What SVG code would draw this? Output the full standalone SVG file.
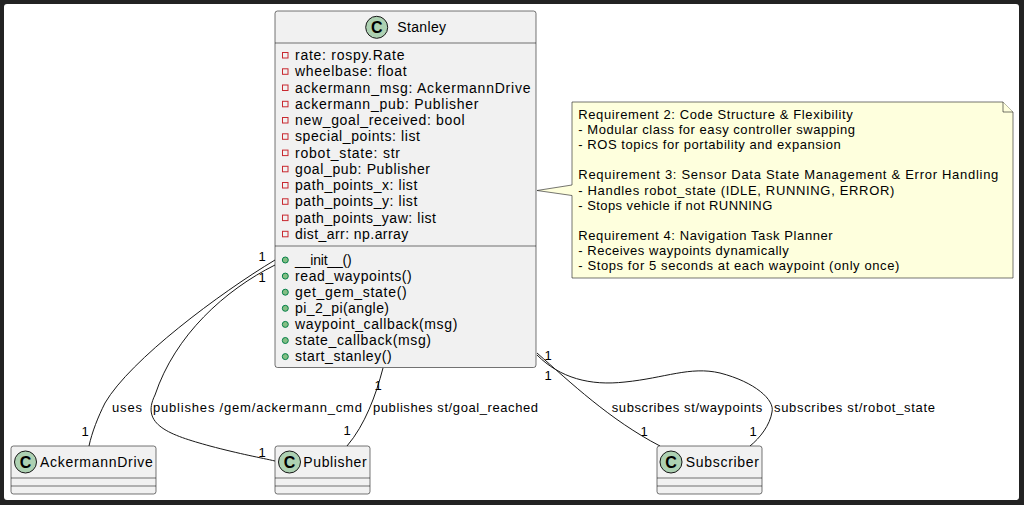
<svg xmlns="http://www.w3.org/2000/svg" width="1024" height="505" viewBox="0 0 1024 505">
<style>
text{font-family:"Liberation Sans",Arial,sans-serif;fill:#000}
.cls{font-size:14px}
.sm{font-size:13px}
.mul{font-size:13px;text-anchor:middle}
.box{fill:#F1F1F1;stroke:#181818;stroke-width:0.6}
.sep{stroke:#181818;stroke-width:0.6}
.ic{fill:#ADD1B2;stroke:#181818;stroke-width:1}
.icT{font-size:16px;font-weight:bold;text-anchor:middle}
.att{fill:none;stroke:#C82930;stroke-width:1}
.met{fill:#84BE84;stroke:#038048;stroke-width:1}
.edge{fill:none;stroke:#181818;stroke-width:1}
.note{fill:#FEFFDD;stroke:#181818;stroke-width:0.6}
</style>
<rect x="0" y="0" width="1024" height="505" fill="#222222"/>
<rect x="4" y="4" width="1015" height="496" rx="3" fill="#FFFFFF"/>

<g id="connectors">
<path class="edge" d="M275,260 C220,293 130,360 105,403 C98,417 92,432 89,446"/>
<path class="edge" d="M275,265 C225,290 175,335 155,395 C140,425 170,435 210,446 C240,454 262,458 275,461"/>
<path class="edge" d="M383,368 C376,395 365,425 347,446"/>
<path class="edge" d="M537,353 C570,382 610,420 660,446"/>
<path class="edge" d="M537,355 C560,378 590,386 625,382 C665,378 690,366 720,373 C755,382 775,400 772,412 C770,425 760,438 750,446"/>
<text class="sm" x="112" y="412" textLength="30">uses</text>
<text class="sm" x="153" y="412" textLength="209">publishes /gem/ackermann_cmd</text>
<text class="sm" x="373" y="412" textLength="165">publishes st/goal_reached</text>
<text class="sm" x="611.7" y="412" textLength="150.6">subscribes st/waypoints</text>
<text class="sm" x="774" y="412" textLength="161">subscribes st/robot_state</text>
<text class="mul" x="262" y="260.5">1</text>
<text class="mul" x="262" y="281.5">1</text>
<text class="mul" x="85" y="435.5">1</text>
<text class="mul" x="262" y="456.5">1</text>
<text class="mul" x="378" y="389.5">1</text>
<text class="mul" x="347" y="434.5">1</text>
<text class="mul" x="548" y="359.5">1</text>
<text class="mul" x="548" y="379.5">1</text>
<text class="mul" x="644" y="435.5">1</text>
<text class="mul" x="753" y="435.5">1</text>
</g>

<g id="Stanley">
<rect class="box" x="275" y="11" width="261" height="356.5" rx="2.5"/>
<line class="sep" x1="275" y1="43" x2="536" y2="43"/>
<line class="sep" x1="275" y1="246" x2="536" y2="246"/>
<circle class="ic" cx="376.7" cy="27.3" r="11"/>
<text class="icT" x="376.7" y="33">C</text>
<text class="cls" x="397.3" y="32" textLength="48.7">Stanley</text>
<rect class="att" x="282.5" y="52.5" width="5.5" height="5.5"/>
<text class="cls" x="295" y="60" textLength="109.5">rate: rospy.Rate</text>
<rect class="att" x="282.5" y="68.8" width="5.5" height="5.5"/>
<text class="cls" x="295" y="76.3" textLength="111.7">wheelbase: float</text>
<rect class="att" x="282.5" y="85" width="5.5" height="5.5"/>
<text class="cls" x="295" y="92.5" textLength="235.5">ackermann_msg: AckermannDrive</text>
<rect class="att" x="282.5" y="101.3" width="5.5" height="5.5"/>
<text class="cls" x="295" y="108.8" textLength="183.5">ackermann_pub: Publisher</text>
<rect class="att" x="282.5" y="117.5" width="5.5" height="5.5"/>
<text class="cls" x="295" y="125" textLength="169.5">new_goal_received: bool</text>
<rect class="att" x="282.5" y="133.8" width="5.5" height="5.5"/>
<text class="cls" x="295" y="141.3" textLength="125">special_points: list</text>
<rect class="att" x="282.5" y="150.1" width="5.5" height="5.5"/>
<text class="cls" x="295" y="157.6" textLength="105">robot_state: str</text>
<rect class="att" x="282.5" y="166.3" width="5.5" height="5.5"/>
<text class="cls" x="295" y="173.8" textLength="135">goal_pub: Publisher</text>
<rect class="att" x="282.5" y="182.5" width="5.5" height="5.5"/>
<text class="cls" x="295" y="190" textLength="122.3">path_points_x: list</text>
<rect class="att" x="282.5" y="198.8" width="5.5" height="5.5"/>
<text class="cls" x="295" y="206.3" textLength="122.3">path_points_y: list</text>
<rect class="att" x="282.5" y="215.1" width="5.5" height="5.5"/>
<text class="cls" x="295" y="222.6" textLength="141">path_points_yaw: list</text>
<rect class="att" x="282.5" y="231.3" width="5.5" height="5.5"/>
<text class="cls" x="295" y="238.8" textLength="113.3">dist_arr: np.array</text>
<circle class="met" cx="285.3" cy="260" r="3"/>
<text class="cls" x="295" y="264.5" textLength="56.7">__init__()</text>
<circle class="met" cx="285.3" cy="276.1" r="3"/>
<text class="cls" x="295" y="280.6" textLength="116.7">read_waypoints()</text>
<circle class="met" cx="285.3" cy="292.2" r="3"/>
<text class="cls" x="295" y="296.7" textLength="111.7">get_gem_state()</text>
<circle class="met" cx="285.3" cy="308.3" r="3"/>
<text class="cls" x="295" y="312.8" textLength="94">pi_2_pi(angle)</text>
<circle class="met" cx="285.3" cy="324.4" r="3"/>
<text class="cls" x="295" y="328.9" textLength="162.3">waypoint_callback(msg)</text>
<circle class="met" cx="285.3" cy="340.5" r="3"/>
<text class="cls" x="295" y="345" textLength="136">state_callback(msg)</text>
<circle class="met" cx="285.3" cy="356.6" r="3"/>
<text class="cls" x="295" y="361.1" textLength="96.7">start_stanley()</text>
</g>

<g id="note">
<path class="note" d="M572,102 L1003,102 L1013,112 L1013,278 L572,278 L572,195.5 L537,190.5 L572,185 Z"/>
<path class="note" d="M1003,102 L1003,112 L1013,112"/>
<text class="sm" x="578.3" y="119" textLength="274.4">Requirement 2: Code Structure &amp; Flexibility</text>
<text class="sm" x="578.3" y="134.1" textLength="276.7">- Modular class for easy controller swapping</text>
<text class="sm" x="578.3" y="149.2" textLength="262.4">- ROS topics for portability and expansion</text>
<text class="sm" x="578.3" y="179.4" textLength="420">Requirement 3: Sensor Data State Management &amp; Error Handling</text>
<text class="sm" x="578.3" y="194.5" textLength="316">- Handles robot_state (IDLE, RUNNING, ERROR)</text>
<text class="sm" x="578.3" y="209.6" textLength="194">- Stops vehicle if not RUNNING</text>
<text class="sm" x="578.3" y="239.8" textLength="254.4">Requirement 4: Navigation Task Planner</text>
<text class="sm" x="578.3" y="254.9" textLength="210.4">- Receives waypoints dynamically</text>
<text class="sm" x="578.3" y="270" textLength="321">- Stops for 5 seconds at each waypoint (only once)</text>
</g>

<g id="AckermannDrive">
<rect class="box" x="11" y="446" width="145" height="48" rx="2.5"/>
<line class="sep" x1="11" y1="478" x2="156" y2="478"/>
<line class="sep" x1="11" y1="486" x2="156" y2="486"/>
<circle class="ic" cx="25.5" cy="462" r="11"/>
<text class="icT" x="25.5" y="467.7">C</text>
<text class="cls" x="40" y="467" textLength="112.7">AckermannDrive</text>
</g>

<g id="Publisher">
<rect class="box" x="275" y="446" width="95" height="48" rx="2.5"/>
<line class="sep" x1="275" y1="478" x2="370" y2="478"/>
<line class="sep" x1="275" y1="486" x2="370" y2="486"/>
<circle class="ic" cx="289.5" cy="462" r="11"/>
<text class="icT" x="289.5" y="467.7">C</text>
<text class="cls" x="303.3" y="467" textLength="63.4">Publisher</text>
</g>

<g id="Subscriber">
<rect class="box" x="657" y="446" width="105" height="48" rx="2.5"/>
<line class="sep" x1="657" y1="478" x2="762" y2="478"/>
<line class="sep" x1="657" y1="486" x2="762" y2="486"/>
<circle class="ic" cx="671" cy="462" r="11"/>
<text class="icT" x="671" y="467.7">C</text>
<text class="cls" x="685.7" y="467" textLength="73.3">Subscriber</text>
</g>
</svg>
